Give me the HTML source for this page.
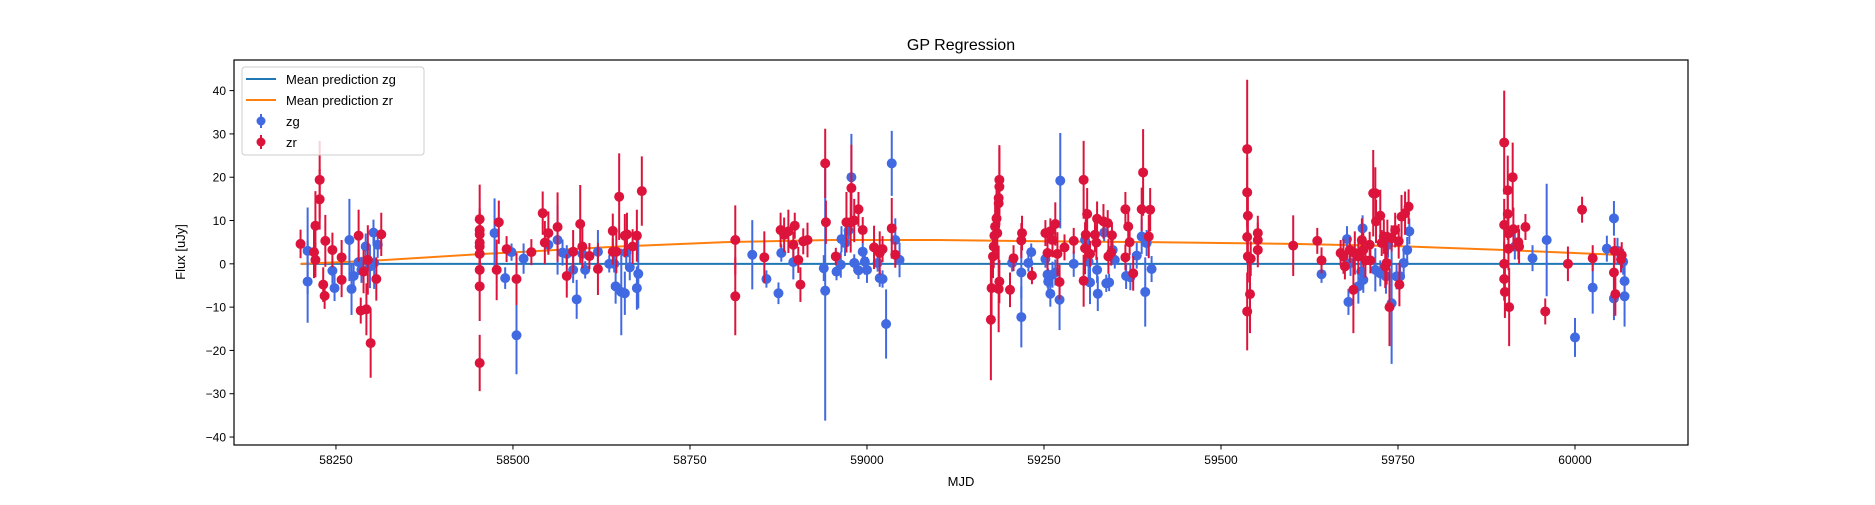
<!DOCTYPE html>
<html><head><meta charset="utf-8"><style>
html,body{margin:0;padding:0;background:#fff;}
svg text{font-family:"Liberation Sans","DejaVu Sans",sans-serif;}
</style></head><body>
<svg id="chart" width="1875" height="500" xmlns="http://www.w3.org/2000/svg">
<rect width="1875" height="500" fill="#fff"/>
<g id="gridlayer"></g>
<g id="marks"></g>
<rect x="234" y="60" width="1454" height="385" fill="none" stroke="#000" stroke-width="1.2"/>
<g id="axes"></g>
<text x="961" y="50" text-anchor="middle" font-size="16">GP Regression</text>
<text x="961" y="486" text-anchor="middle" font-size="13">MJD</text>
<text transform="translate(185,252) rotate(-90)" text-anchor="middle" font-size="13">Flux [uJy]</text>
<g>
<rect x="242" y="67" width="182" height="88" rx="3" fill="#fff" fill-opacity="0.8" stroke="#ccc"/>
<g><line x1="246" y1="79" x2="276" y2="79" stroke="#1f77b4" stroke-width="2"/><text x="286" y="84" font-size="13">Mean prediction zg</text></g>
<g><line x1="246" y1="100" x2="276" y2="100" stroke="#ff7f0e" stroke-width="2"/><text x="286" y="105" font-size="13">Mean prediction zr</text></g>
<g><line x1="261" y1="114" x2="261" y2="128" stroke="#4169e1" stroke-width="2"/><circle cx="261" cy="121" r="4.5" fill="#4169e1"/><text x="286" y="126" font-size="13">zg</text></g>
<g><line x1="261" y1="135" x2="261" y2="149" stroke="#dc143c" stroke-width="2"/><circle cx="261" cy="142" r="4.5" fill="#dc143c"/><text x="286" y="147" font-size="13">zr</text></g>
</g>
</svg>
<script>
const xTicks=[58250,58500,58750,59000,59250,59500,59750,60000];
const yTicks=[-40,-30,-20,-10,0,10,20,30,40];
const meanZgMjd=[58200,60070];
const meanZgFlux=[0,0];
const meanZrMjd=[58200,58300,58450,58650,58800,58950,59100,59200,59400,59600,59750,59900,60070];
const meanZrFlux=[0,0.7,2.2,4,5,5.5,5.5,5.3,5,4.6,4.1,3.2,2];
const zgData=[[58210,3,10],[58210,-4.1,9.5],[58245,-1.6,3],[58248,-5.6,3],[58269,5.5,9.5],[58272,-5.8,6],[58275,-2.8,3],[58282,0.4,3],[58286,-1.4,3],[58292,4,3],[58298,-0.6,5],[58303,7.2,3],[58304,0.2,6],[58309,4.4,3],
[58474,7.1,8],[58489,-3.3,2.5],[58498,2.7,2],[58505,-16.5,9],[58515,1.2,3.5],[58550,4.4,2],[58563,5.5,8],[58570,2.6,3],[58576,2.3,2],[58585,-1.4,3],[58590,-8.2,4.5],[58598,2.3,2],[58602,-1.4,2],[58620,2.8,5],[58636,0,2],[58643,0,2],[58645,-5.2,4],[58653,-6.5,10],[58658,-6.8,5],[58660,2.6,3],[58665,-0.8,3],[58675,-5.6,5],[58677,-2.3,8],
[58838,2.1,8],[58858,-3.5,2],[58875,-6.8,2.5],[58879,2.5,2],[58896,0.4,4],[58939,-1,3],[58941,-6.2,30],[58957,-1.8,2],[58963,-0.2,3],[58964,5.7,3],[58969,4.8,3],[58974,7.7,2],[58978,20,10],[58982,0.2,2],[58988,-1.5,2],[58994,2.8,2],[58997,0.5,3],[59000,-1.4,3],[59015,0.2,2],[59018,-3.3,2],[59022,-3.5,2],[59027,-13.9,8],[59035,23.2,7.5],[59040,5.5,5],[59046,0.9,4],
[59205,0.2,2],[59218,-2,6],[59218,-12.3,7],[59228,0.2,2],[59232,2.7,2],[59252,1.1,2],[59255,-2.5,3],[59256,-4.1,3],[59259,-6.9,3],[59262,-2.5,3],[59266,-2,3],[59272,-8.3,7],[59273,19.2,11],[59292,0,3],[59308,5.5,3],[59313,0.5,5],[59315,-4.3,5],[59325,-1.4,3],[59326,-6.9,4],[59335,7.2,2],[59338,-4.5,2],[59342,-4.3,2],[59347,3.2,3],[59350,0.9,2],[59366,-2.8,3],[59372,-3.1,3],[59381,1.9,3],[59388,6.3,4],[59393,-6.5,8],[59395,4.8,3],[59402,-1.2,3],
[59642,-2.4,2],[59678,5.7,3],[59680,-8.8,3],[59683,0.2,3],[59694,-5.2,4],[59698,-1.8,3],[59700,8.2,3],[59701,-3.7,3],[59718,-1.4,5],[59725,-2.2,3],[59733,-2.9,4],[59736,4.4,3],[59741,-9.1,14],[59748,-2.9,3],[59753,-2.9,3],[59758,0.2,3],[59763,3.2,3],[59766,7.5,3],
[59915,4,3],[59940,1.3,3],[59960,5.5,13],[60000,-17,4.5],[60025,-5.5,6],[60045,3.5,3],[60055,10.5,4],[60055,-8,5],[60060,3,3],[60070,-4,3],[60070,-7.5,7],[60068,0.5,3]];
const zrData=[[58200,4.6,3.3],[58219,2.7,6],[58221,0.9,4],[58221,8.8,8],[58227,19.4,9],[58227,14.9,7],[58232,-4.8,4],[58234,-7.4,3],[58235,5.3,6],[58245,3.2,4],[58258,1.5,4],[58258,-3.7,4],[58282,6.5,6],[58285,-10.8,3],[58289,-1.8,5],[58293,-10.5,6],[58295,0.9,8],[58299,-18.3,8],[58307,-3.5,5],[58314,6.8,5],
[58453,10.3,8],[58453,7.8,5],[58453,6.8,5],[58453,4.9,5],[58453,4,5],[58453,2.3,5],[58453,-1.4,5],[58453,-5.2,8],[58453,-22.9,6.5],[58480,9.6,5],[58477,-1.4,7],[58491,3.4,3],[58505,-3.5,6],[58526,2.7,3],[58542,11.7,5],[58545,4.9,5],[58550,7.1,5],[58563,8.5,8],[58576,-2.8,5],[58585,2.8,5],[58595,9.2,9],[58598,4,5],[58608,1.8,3],[58620,-1.2,6],[58641,7.6,4],[58641,2.8,3],[58646,2.8,5],[58650,15.5,10],[58658,6.5,5],[58661,6.8,5],[58669,4,4],[58675,6.5,6],[58682,16.8,8],
[58814,5.5,8],[58814,-7.5,9],[58855,1.5,6],[58878,7.8,4],[58883,6.7,4],[58889,7.5,5],[58896,4.4,3],[58898,8.8,3],[58903,0.9,3],[58906,-4.8,4],[58910,5.2,3],[58916,5.5,4],[58941,23.2,8],[58942,9.6,5],[58956,1.7,2],[58971,9.6,7],[58977,9.6,7],[58978,17.5,10],[58982,10,5],[58988,12.6,4],[58994,7.8,3],[59010,3.8,5],[59018,2.5,5],[59022,3.4,3],[59035,8.2,7],[59040,2.1,3],
[59175,-12.9,14],[59176,-5.6,8],[59178,1.7,5],[59179,4,5],[59180,6.5,5],[59181,8.6,5],[59183,10.5,8],[59184,7.1,6],[59186,14,5],[59186,15.2,5],[59187,17.8,9],[59187,19.4,8],[59186,-5.8,10],[59187,-4.1,5],[59202,-6,4],[59207,1.3,3],[59218,5.4,4],[59219,7.1,4],[59233,-2.7,2],[59252,7.1,3],[59255,2.5,4],[59259,7.5,3],[59262,5.5,4],[59266,9.2,5],[59269,2.3,5],[59272,-4.2,4],[59279,3.8,3],[59292,5.3,3],[59306,19.4,9],[59306,-3.9,6],[59308,3.6,6],[59309,6.7,6],[59311,11.5,6],[59315,2.3,3],[59322,6.7,4],[59324,4.9,4],[59325,10.4,4],[59334,9.8,4],[59340,9.4,3],[59341,1.7,4],[59345,2.6,3],[59346,6.6,3],[59365,12.6,4],[59365,1.5,3],[59369,8.6,4],[59371,5,3],[59376,-2.2,4],[59388,12.6,5],[59390,21.1,10],[59400,12.5,5],[59398,6.3,5],
[59537,26.5,16],[59537,16.5,8],[59538,11.1,6],[59537,6.2,6],[59538,1.7,6],[59542,1.2,4],[59541,-7,9],[59537,-11,9],[59552,7.1,4],[59552,5.5,4],[59552,3.2,4],[59602,4.2,7],[59636,5.3,3],[59642,0.8,3],
[59669,2.5,3],[59673,1.7,4],[59675,-0.6,3],[59682,3.2,3],[59687,-6,10],[59689,2.5,5],[59694,1.7,4],[59699,5.5,5],[59701,3.2,4],[59704,0.8,4],[59710,4.4,3],[59711,0.8,3],[59715,16.3,10],[59718,16.3,6],[59719,9.8,5],[59725,11.1,6],[59727,4.8,3],[59730,6.3,4],[59732,-0.6,5],[59734,0.2,5],[59735,6.2,4],[59738,-10,9],[59741,5.9,3],[59746,7.8,4],[59751,5.2,4],[59752,-4.8,5],[59755,10.9,5],[59760,11.7,5],[59765,13.2,4],
[59900,28,12],[59900,9,6],[59900,0,5],[59900,-3.5,5],[59901,-6.5,6],[59905,17,8],[59905,11.5,6],[59906,7,5],[59906,3.5,5],[59907,-10,9],[59912,20,8],[59913,8,5],[59920,5,4],[59921,4,4],[59930,8.5,3],[59958,-11,3],[59990,0,4],[60010,12.5,3],[60025,1.3,3],[60055,-2,4],[60056,3,3],[60057,-7,5],[60065,1,3],[60066,2,3]];

const L=234,R=1688,T=60,B=445;
const xMin=58106,xMax=60159.6,yMin=-41.84,yMax=47.07;
function xs(v){return L+(v-xMin)/(xMax-xMin)*(R-L);}
function ys(v){return B-(v-yMin)/(yMax-yMin)*(B-T);}
const NS='http://www.w3.org/2000/svg';
function mk(tag,attrs,parent){const e=document.createElementNS(NS,tag);for(const k in attrs)e.setAttribute(k,attrs[k]);parent.appendChild(e);return e;}
const axes=document.getElementById('axes');
const marks=document.getElementById('marks');
xTicks.forEach(t=>{
  const g=mk('g',{},axes);
  
  
  mk('line',{x1:xs(t),x2:xs(t),y1:B,y2:B+4.5,stroke:'#000','stroke-width':1},g);
  const tx=mk('text',{x:xs(t),y:B+19,'text-anchor':'middle','font-size':12},g);tx.textContent=t;
});
yTicks.forEach(t=>{
  const g=mk('g',{},axes);
  
  
  mk('line',{x1:L-4.5,x2:L,y1:ys(t),y2:ys(t),stroke:'#000','stroke-width':1},g);
  const tx=mk('text',{x:L-8,y:ys(t)+4.5,'text-anchor':'end','font-size':12},g);tx.textContent=(t<0?'\u2212'+(-t):t);
});
function drawLine(xsArr,ysArr,color,name){
  let d='';xsArr.forEach((v,i)=>{d+=(i?'L':'M')+xs(v)+','+ys(ysArr[i]);});
  const p=mk('path',{d:d,fill:'none',stroke:color,'stroke-width':2},marks);
  
  
}
drawLine(meanZgMjd,meanZgFlux,'#1f77b4','mean-prediction-zg-line');
drawLine(meanZrMjd,meanZrFlux,'#ff7f0e','mean-prediction-zr-line');
function drawPts(data,color,name){
  const g=mk('g',{},marks);
  
  
  data.forEach(d=>{
    const l=mk('line',{x1:xs(d[0]),x2:xs(d[0]),y1:ys(d[1]-d[2]),y2:ys(d[1]+d[2]),stroke:color,'stroke-width':2},g);
    
    
  });
  data.forEach(d=>{
    const c=mk('circle',{cx:xs(d[0]),cy:ys(d[1]),r:5,fill:color},g);
    
    
  });
}
drawPts(zgData,'#4169e1','zg');
drawPts(zrData,'#dc143c','zr');
</script>
</body></html>
